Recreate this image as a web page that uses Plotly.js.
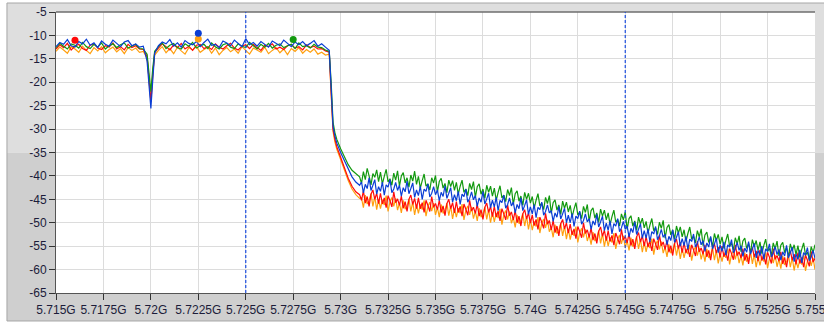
<!DOCTYPE html>
<html>
<head>
<meta charset="utf-8">
<script src="https://cdn.plot.ly/plotly-3.0.1.min.js"></script>
<style>html,body{margin:0;padding:0;background:#fff;}#chart{width:824px;height:323px;}</style>
</head>
<body>
<div id="chart"></div>
<script>
// Frequency axis (GHz)
var freq = [
5.715,5.7152,5.7154,5.7156,5.7158,5.716,5.7162,5.7164,5.7166,5.7168,
5.717,5.7172,5.7174,5.7176,5.7178,5.718,5.7182,5.7184,5.7186,5.7188,
5.719,5.7192,5.7194,5.7196,
5.7198,5.7199,5.72,5.7201,5.7202,
5.7204,5.7206,5.7208,5.721,5.7212,5.7214,5.7216,5.7218,5.722,5.7222,
5.7224,5.7226,5.7228,5.723,5.7232,5.7234,5.7236,5.7238,5.724,5.7242,
5.7244,5.7246,5.7248,5.725,5.7252,5.7254,5.7256,5.7258,5.726,5.7262,
5.7264,5.7266,5.7268,5.727,5.7272,5.7274,5.7276,5.7278,5.728,5.7282,
5.7284,5.7286,5.7288,5.729,5.7292,
5.7294,5.7295,5.7296,5.7297,5.7298,5.73,5.7302,5.7304,5.7306,5.7308,5.731,
5.7311,5.7312,5.7313,5.7314,5.7315,5.7316,5.7317,5.7318,5.7319,5.732,
5.7321,5.7322,5.7323,5.7324,5.7325,5.7326,5.7327,5.7328,5.7329,5.733,
5.7331,5.7332,5.7333,5.7334,5.7335,5.7336,5.7337,5.7338,5.7339,5.734,
5.7341,5.7342,5.7343,5.7344,5.7345,5.7346,5.7347,5.7348,5.7349,5.735,
5.7351,5.7352,5.7353,5.7354,5.7355,5.7356,5.7357,5.7358,5.7359,5.736,
5.7361,5.7362,5.7363,5.7364,5.7365,5.7366,5.7367,5.7368,5.7369,5.737,
5.7371,5.7372,5.7373,5.7374,5.7375,5.7376,5.7377,5.7378,5.7379,5.738,
5.7381,5.7382,5.7383,5.7384,5.7385,5.7386,5.7387,5.7388,5.7389,5.739,
5.7391,5.7392,5.7393,5.7394,5.7395,5.7396,5.7397,5.7398,5.7399,5.74,
5.7401,5.7402,5.7403,5.7404,5.7405,5.7406,5.7407,5.7408,5.7409,5.741,
5.7411,5.7412,5.7413,5.7414,5.7415,5.7416,5.7417,5.7418,5.7419,5.742,
5.7421,5.7422,5.7423,5.7424,5.7425,5.7426,5.7427,5.7428,5.7429,5.743,
5.7431,5.7432,5.7433,5.7434,5.7435,5.7436,5.7437,5.7438,5.7439,5.744,
5.7441,5.7442,5.7443,5.7444,5.7445,5.7446,5.7447,5.7448,5.7449,5.745,
5.7451,5.7452,5.7453,5.7454,5.7455,5.7456,5.7457,5.7458,5.7459,5.746,
5.7461,5.7462,5.7463,5.7464,5.7465,5.7466,5.7467,5.7468,5.7469,5.747,
5.7471,5.7472,5.7473,5.7474,5.7475,5.7476,5.7477,5.7478,5.7479,5.748,
5.7481,5.7482,5.7483,5.7484,5.7485,5.7486,5.7487,5.7488,5.7489,5.749,
5.7491,5.7492,5.7493,5.7494,5.7495,5.7496,5.7497,5.7498,5.7499,5.75,
5.7501,5.7502,5.7503,5.7504,5.7505,5.7506,5.7507,5.7508,5.7509,5.751,
5.7511,5.7512,5.7513,5.7514,5.7515,5.7516,5.7517,5.7518,5.7519,5.752,
5.7521,5.7522,5.7523,5.7524,5.7525,5.7526,5.7527,5.7528,5.7529,5.753,
5.7531,5.7532,5.7533,5.7534,5.7535,5.7536,5.7537,5.7538,5.7539,5.754,
5.7541,5.7542,5.7543,5.7544,5.7545,5.7546,5.7547,5.7548,5.7549,5.755
];

var levelOrange = [
-13.4,-12.5,-13.1,-13.8,-12.4,-12.9,-13.6,-12.3,-13.2,-13.9,
-12.6,-13.3,-12.4,-13.7,-13.0,-12.5,-13.5,-12.8,-13.9,-12.6,
-13.2,-12.7,-13.6,-13.4,
-14.8,-19.0,-23.5,-17.8,-14.2,
-13.2,-12.4,-13.7,-12.8,-13.9,-12.5,-13.3,-14.0,-12.6,-13.1,
-12.4,-13.6,-13.0,-12.5,-13.8,-12.7,-14.1,-13.2,-12.6,-13.5,
-12.9,-13.8,-12.4,-13.3,-14.0,-12.7,-13.1,-13.6,-12.5,-13.9,
-13.2,-12.6,-13.7,-12.9,-14.1,-12.8,-13.4,-12.6,-13.8,-13.0,
-13.6,-12.9,-14.0,-13.6,-14.2,
-14.0,-22.5,-30.5,-32.8,-34.3,-36.5,-39.0,-41.0,-42.8,-44.0,-44.8,
-44.7,-46.8,-44.1,-46.0,-45.3,-43.8,-46.5,-44.4,-47.2,-45.0,
-47.0,-45.1,-46.2,-44.2,-47.6,-45.5,-44.6,-46.5,-44.8,-47.3,
-45.8,-47.9,-45.2,-47.1,-46.4,-44.9,-47.6,-45.5,-48.3,-46.1,
-48.0,-46.1,-47.2,-45.2,-48.6,-46.5,-45.6,-47.5,-45.8,-48.3,
-46.7,-48.8,-46.1,-48.0,-47.3,-45.8,-48.5,-46.4,-49.2,-47.0,
-48.8,-46.9,-48.0,-46.0,-49.4,-47.3,-46.4,-48.3,-46.6,-49.1,
-47.5,-49.6,-46.9,-48.8,-48.1,-46.6,-49.3,-47.2,-50.0,-47.8,
-49.8,-47.9,-49.0,-47.0,-50.4,-48.3,-47.4,-49.3,-47.6,-50.1,
-48.9,-51.0,-48.3,-50.2,-49.5,-48.0,-50.7,-48.6,-51.4,-49.2,
-51.6,-49.7,-50.8,-48.8,-52.2,-50.1,-49.2,-51.1,-49.4,-51.9,
-51.0,-53.1,-50.4,-52.3,-51.6,-50.1,-52.8,-50.7,-53.5,-51.3,
-53.6,-51.7,-52.8,-50.8,-54.2,-52.1,-51.2,-53.1,-51.4,-53.9,
-52.6,-54.7,-52.0,-53.9,-53.2,-51.7,-54.4,-52.3,-55.1,-52.9,
-55.0,-53.1,-54.2,-52.2,-55.6,-53.5,-52.6,-54.5,-52.8,-55.3,
-53.8,-55.9,-53.2,-55.1,-54.4,-52.9,-55.6,-53.5,-56.3,-54.1,
-56.2,-54.3,-55.4,-53.4,-56.8,-54.7,-53.8,-55.7,-54.0,-56.5,
-55.2,-57.3,-54.6,-56.5,-55.8,-54.3,-57.0,-54.9,-57.7,-55.5,
-57.5,-55.6,-56.7,-54.7,-58.1,-56.0,-55.1,-57.0,-55.3,-57.8,
-56.2,-58.3,-55.6,-57.5,-56.8,-55.3,-58.0,-55.9,-58.7,-56.5,
-58.3,-56.4,-57.5,-55.5,-58.9,-56.8,-55.9,-57.8,-56.1,-58.6,
-57.0,-59.1,-56.4,-58.3,-57.6,-56.1,-58.8,-56.7,-59.5,-57.3,
-59.1,-57.2,-58.3,-56.3,-59.7,-57.6,-56.7,-58.6,-56.9,-59.4,
-57.7,-59.8,-57.1,-59.0,-58.3,-56.8,-59.5,-57.4,-60.2,-58.0,
-59.7,-57.8,-58.9,-56.9,-60.3,-58.2,-57.3,-59.2,-57.5,-60.0
];

var levelRed = [
-12.9,-12.0,-12.6,-11.7,-13.1,-12.3,-11.9,-12.8,-13.2,-12.1,
-11.8,-12.7,-13.0,-12.2,-12.5,-11.6,-12.9,-12.4,-13.1,-11.9,
-12.6,-12.2,-12.9,-13.0,
-14.5,-19.5,-24.2,-18.5,-13.6,
-12.7,-11.8,-12.4,-13.1,-12.0,-12.6,-11.7,-12.9,-12.3,-13.2,
-12.1,-11.9,-12.8,-12.4,-13.0,-11.8,-12.5,-12.9,-12.2,-11.7,
-12.7,-13.1,-12.3,-12.0,-12.8,-11.9,-12.6,-13.2,-12.1,-12.4,
-11.8,-12.9,-12.5,-13.0,-12.2,-11.9,-12.7,-12.4,-13.1,-12.0,
-12.6,-12.3,-12.9,-12.8,-13.3,
-13.6,-22.0,-30.0,-32.2,-33.8,-36.0,-38.5,-40.5,-42.2,-43.4,-44.0,
-45.2,-43.2,-45.8,-44.4,-46.5,-43.9,-43.0,-45.0,-43.7,-45.9,
-43.7,-46.0,-44.7,-46.8,-44.2,-45.3,-46.6,-43.4,-45.7,-44.9,
-46.3,-44.3,-46.9,-45.5,-47.6,-45.0,-44.1,-46.1,-44.8,-47.0,
-44.7,-47.0,-45.7,-47.8,-45.2,-46.3,-47.6,-44.4,-46.7,-45.9,
-47.2,-45.2,-47.8,-46.4,-48.5,-45.9,-45.0,-47.0,-45.7,-47.9,
-45.5,-47.8,-46.5,-48.6,-46.0,-47.1,-48.4,-45.2,-47.5,-46.7,
-48.0,-46.0,-48.6,-47.2,-49.3,-46.7,-45.8,-47.8,-46.5,-48.7,
-46.5,-48.8,-47.5,-49.6,-47.0,-48.1,-49.4,-46.2,-48.5,-47.7,
-49.4,-47.4,-50.0,-48.6,-50.7,-48.1,-47.2,-49.2,-47.9,-50.1,
-48.3,-50.6,-49.3,-51.4,-48.8,-49.9,-51.2,-48.0,-50.3,-49.5,
-51.5,-49.5,-52.1,-50.7,-52.8,-50.2,-49.3,-51.3,-50.0,-52.2,
-50.3,-52.6,-51.3,-53.4,-50.8,-51.9,-53.2,-50.0,-52.3,-51.5,
-53.1,-51.1,-53.7,-52.3,-54.4,-51.8,-50.9,-52.9,-51.6,-53.8,
-51.7,-54.0,-52.7,-54.8,-52.2,-53.3,-54.6,-51.4,-53.7,-52.9,
-54.3,-52.3,-54.9,-53.5,-55.6,-53.0,-52.1,-54.1,-52.8,-55.0,
-52.9,-55.2,-53.9,-56.0,-53.4,-54.5,-55.8,-52.6,-54.9,-54.1,
-55.7,-53.7,-56.3,-54.9,-57.0,-54.4,-53.5,-55.5,-54.2,-56.4,
-54.2,-56.5,-55.2,-57.3,-54.7,-55.8,-57.1,-53.9,-56.2,-55.4,
-56.7,-54.7,-57.3,-55.9,-58.0,-55.4,-54.5,-56.5,-55.2,-57.4,
-55.0,-57.3,-56.0,-58.1,-55.5,-56.6,-57.9,-54.7,-57.0,-56.2,
-57.5,-55.5,-58.1,-56.7,-58.8,-56.2,-55.3,-57.3,-56.0,-58.2,
-55.8,-58.1,-56.8,-58.9,-56.3,-57.4,-58.7,-55.5,-57.8,-57.0,
-58.2,-56.2,-58.8,-57.4,-59.5,-56.9,-56.0,-58.0,-56.7,-58.9,
-56.4,-58.7,-57.4,-59.5,-56.9,-58.0,-59.3,-56.1,-58.4,-57.6
];

var levelGreen = [
-12.6,-11.7,-12.3,-12.9,-11.8,-12.1,-12.7,-11.5,-12.4,-12.8,
-11.9,-12.5,-11.6,-12.9,-12.2,-11.8,-12.6,-12.0,-11.6,-12.7,
-12.3,-11.9,-12.8,-12.9,
-14.0,-18.5,-22.0,-17.0,-13.4,
-12.4,-11.6,-12.8,-12.1,-11.7,-12.6,-12.9,-11.8,-12.3,-11.5,
-12.7,-12.2,-11.9,-12.8,-11.6,-12.4,-12.9,-12.0,-11.7,-12.5,
-12.8,-11.8,-12.3,-12.6,-11.5,-12.2,-12.9,-11.9,-12.5,-11.7,
-12.7,-12.1,-11.8,-12.6,-12.3,-11.9,-12.8,-11.6,-12.4,-12.2,
-12.7,-11.9,-12.5,-12.6,-13.1,
-13.4,-20.0,-28.5,-30.8,-32.2,-34.2,-36.0,-37.6,-38.8,-39.6,-40.2,
-41.6,-39.1,-40.8,-38.4,-40.0,-41.9,-39.5,-40.3,-38.7,-41.2,
-39.2,-41.7,-40.1,-38.6,-41.3,-40.6,-42.0,-39.4,-40.9,-38.9,
-42.2,-40.0,-39.3,-41.5,-40.4,-42.4,-39.8,-41.1,-39.0,-41.8,
-40.1,-42.6,-41.0,-39.6,-42.2,-41.7,-43.0,-40.4,-41.5,-39.9,
-43.4,-41.2,-40.5,-42.6,-41.6,-43.6,-40.9,-42.3,-41.0,-43.1,
-41.4,-43.9,-42.2,-40.9,-43.5,-42.8,-44.2,-41.6,-42.9,-41.2,
-44.6,-42.3,-41.7,-43.9,-42.8,-44.8,-42.0,-43.5,-42.2,-44.3,
-42.6,-45.2,-43.5,-42.1,-44.7,-44.1,-45.5,-42.9,-44.2,-42.5,
-46.1,-43.8,-43.2,-45.4,-44.3,-46.3,-43.5,-45.0,-43.7,-45.8,
-44.4,-46.9,-45.2,-43.8,-46.4,-45.8,-47.2,-44.6,-45.9,-44.2,
-48.0,-45.7,-45.1,-47.3,-46.2,-48.2,-45.4,-46.9,-45.6,-47.7,
-46.3,-48.8,-47.1,-45.7,-48.3,-47.7,-49.1,-46.5,-47.8,-46.1,
-49.7,-47.4,-46.8,-49.0,-47.9,-49.9,-47.1,-48.6,-47.3,-49.4,
-47.9,-50.4,-48.7,-47.3,-49.9,-49.3,-50.7,-48.1,-49.4,-47.7,
-51.4,-49.1,-48.5,-50.7,-49.6,-51.6,-48.8,-50.3,-49.0,-51.1,
-49.7,-52.2,-50.5,-49.1,-51.7,-51.1,-52.5,-49.9,-51.2,-49.5,
-53.3,-51.0,-50.4,-52.6,-51.5,-53.5,-50.7,-52.2,-50.9,-53.0,
-51.5,-54.0,-52.3,-50.9,-53.5,-52.9,-54.3,-51.7,-53.0,-51.3,
-54.9,-52.6,-52.0,-54.2,-53.1,-55.1,-52.3,-53.8,-52.5,-54.6,
-53.0,-55.5,-53.8,-52.4,-55.0,-54.4,-55.8,-53.2,-54.5,-52.8,
-56.2,-53.9,-53.3,-55.5,-54.4,-56.4,-53.6,-55.1,-53.8,-55.9,
-54.1,-56.6,-54.9,-53.5,-56.1,-55.5,-56.9,-54.3,-55.6,-53.9,
-57.1,-54.8,-54.2,-56.4,-55.3,-57.3,-54.5,-56.0,-54.7,-56.8,
-54.9,-57.4,-55.7,-54.3,-56.9,-56.3,-57.7,-55.1,-56.4,-54.7
];

var levelBlue = [
-12.4,-11.5,-11.9,-10.9,-12.2,-12.5,-11.3,-11.8,-10.8,-12.1,
-11.6,-12.6,-11.2,-11.9,-12.3,-11.0,-11.7,-12.4,-11.4,-11.1,
-12.2,-11.8,-12.5,-12.3,
-15.5,-20.5,-25.6,-19.5,-13.8,
-12.2,-11.4,-11.8,-10.9,-12.3,-11.6,-12.5,-11.1,-11.7,-12.0,
-11.3,-12.4,-11.5,-10.8,-12.1,-11.9,-12.6,-11.2,-11.6,-12.2,
-11.0,-11.8,-12.4,-10.7,-12.0,-11.5,-12.3,-11.3,-11.9,-12.5,
-11.2,-11.7,-12.2,-11.0,-11.6,-12.4,-11.4,-12.0,-11.3,-12.2,
-11.7,-11.1,-12.3,-11.8,-12.5,
-13.2,-21.0,-29.5,-31.5,-33.0,-35.0,-36.8,-38.6,-40.2,-41.3,-42.0,
-41.3,-43.6,-41.8,-42.7,-40.4,-43.1,-42.0,-40.8,-43.9,-42.3,
-43.3,-41.3,-44.1,-41.9,-42.4,-40.8,-43.6,-42.8,-41.4,-43.1,
-42.0,-44.3,-42.5,-43.4,-41.1,-43.8,-42.7,-41.5,-44.6,-43.0,
-44.2,-42.2,-45.0,-42.8,-43.3,-41.7,-44.5,-43.7,-42.3,-44.0,
-43.0,-45.3,-43.5,-44.4,-42.1,-44.8,-43.7,-42.5,-45.6,-44.0,
-45.3,-43.3,-46.1,-43.9,-44.4,-42.8,-45.6,-44.8,-43.4,-45.1,
-44.2,-46.5,-44.7,-45.6,-43.3,-46.0,-44.9,-43.7,-46.8,-45.2,
-46.6,-44.6,-47.4,-45.2,-45.7,-44.1,-46.9,-46.1,-44.7,-46.4,
-45.6,-47.9,-46.1,-47.0,-44.7,-47.4,-46.3,-45.1,-48.2,-46.6,
-48.1,-46.1,-48.9,-46.7,-47.2,-45.6,-48.4,-47.6,-46.2,-47.9,
-47.4,-49.7,-47.9,-48.8,-46.5,-49.2,-48.1,-46.9,-50.0,-48.4,
-50.0,-48.0,-50.8,-48.6,-49.1,-47.5,-50.3,-49.5,-48.1,-49.8,
-49.1,-51.4,-49.6,-50.5,-48.2,-50.9,-49.8,-48.6,-51.7,-50.1,
-51.6,-49.6,-52.4,-50.2,-50.7,-49.1,-51.9,-51.1,-49.7,-51.4,
-50.7,-53.0,-51.2,-52.1,-49.8,-52.5,-51.4,-50.2,-53.3,-51.7,
-53.3,-51.3,-54.1,-51.9,-52.4,-50.8,-53.6,-52.8,-51.4,-53.1,
-52.4,-54.7,-52.9,-53.8,-51.5,-54.2,-53.1,-51.9,-55.0,-53.4,
-54.9,-52.9,-55.7,-53.5,-54.0,-52.4,-55.2,-54.4,-53.0,-54.7,
-53.8,-56.1,-54.3,-55.2,-52.9,-55.6,-54.5,-53.3,-56.4,-54.8,
-56.1,-54.1,-56.9,-54.7,-55.2,-53.6,-56.4,-55.6,-54.2,-55.9,
-54.9,-57.2,-55.4,-56.3,-54.0,-56.7,-55.6,-54.4,-57.5,-55.9,
-57.0,-55.0,-57.8,-55.6,-56.1,-54.5,-57.3,-56.5,-55.1,-56.8,
-55.7,-58.0,-56.2,-57.1,-54.8,-57.5,-56.4,-55.2,-58.3,-56.7,
-57.8,-55.8,-58.6,-56.4,-56.9,-55.3,-58.1,-57.3,-55.9,-57.6
];

// Marker dots (orange, red, green, blue)
var markerFreq  = [5.7225, 5.716, 5.7275, 5.7225];
var markerLevel = [-10.77, -11.05, -10.85, -9.55];

// Cursor lines
var cursorFreq = [5.725, 5.745];

// Axis ticks
var freqTicks = [5.715,5.7175,5.72,5.7225,5.725,5.7275,5.73,5.7325,5.735,5.7375,5.74,5.7425,5.745,5.7475,5.75,5.7525,5.755];
var freqTickLabels = ['5.715G','5.7175G','5.72G','5.7225G','5.725G','5.7275G','5.73G','5.7325G','5.735G','5.7375G','5.74G','5.7425G','5.745G','5.7475G','5.75G','5.7525G','5.755G'];
var levelTicks = [-65,-60,-55,-50,-45,-40,-35,-30,-25,-20,-15,-10,-5];
var levelTickLabels = ['-65','-60','-55','-50','-45','-40','-35','-30','-25','-20','-15','-10','-5'];

// ---- styling ----
var seriesLevels = [levelOrange, levelRed, levelGreen, levelBlue];
var seriesColors = ['#ffa010', '#ff0a0a', '#12990f', '#0a3ed4'];

var traces = [];
for (var i = 0; i < seriesLevels.length; i++) {
  traces.push({
    x: freq, y: seriesLevels[i], type: 'scatter', mode: 'lines',
    line: {color: seriesColors[i], width: 1.2}, hoverinfo: 'skip', showlegend: false
  });
}
for (var j = 0; j < markerFreq.length; j++) {
  traces.push({
    x: [markerFreq[j]], y: [markerLevel[j]], type: 'scatter', mode: 'markers',
    marker: {color: seriesColors[j], size: 7}, hoverinfo: 'skip', showlegend: false
  });
}

var tickFont = {family: 'Liberation Sans, Arial, sans-serif', size: 12, color: '#1c1c3a'};

var shapes = [
  {type:'rect', xref:'paper', yref:'paper', x0:-0.0646, x1:1.03, y0:0.5, y1:1.032, fillcolor:'#dedede', line:{width:0}, layer:'below'},
  {type:'rect', xref:'paper', yref:'paper', x0:-0.0646, x1:1.03, y0:-0.0996, y1:0.5, fillcolor:'#cfcfcf', line:{width:0}, layer:'below'},
  {type:'rect', xref:'paper', yref:'paper', x0:-0.0646, x1:1.03, y0:-0.0996, y1:1.032, line:{color:'#a6a6a6', width:1}, layer:'below'},
  {type:'rect', xref:'paper', yref:'paper', x0:0, x1:1, y0:0, y1:1, fillcolor:'#ffffff', line:{width:0}, layer:'below'},
  {type:'line', xref:'paper', yref:'paper', x0:0, x1:1, y0:1, y1:1, line:{color:'#6e6e6e', width:1.5}, layer:'above'}
];
cursorFreq.forEach(function (f) {
  shapes.push({type:'line', xref:'x', yref:'paper', x0:f, x1:f, y0:0, y1:1,
    line:{color:'#1f4fe0', width:1.2, dash:'3px,2px'}, layer:'above'});
});

var layout = {
  width: 824, height: 323,
  margin: {l: 56, r: 9, t: 12, b: 30, pad: 0},
  paper_bgcolor: '#ffffff', plot_bgcolor: '#ffffff',
  showlegend: false,
  xaxis: {
    range: [5.715, 5.755], tickmode: 'array', tickvals: freqTicks, ticktext: freqTickLabels,
    showgrid: true, gridcolor: '#dcdcdc', gridwidth: 1, zeroline: false,
    ticks: 'outside', ticklen: 6, tickcolor: '#333333', tickwidth: 1,
    showline: true, linecolor: '#555555', linewidth: 1,
    tickfont: tickFont, automargin: false, fixedrange: true,
    ticklabeloverflow: 'allow'
  },
  yaxis: {
    range: [-65, -5], tickmode: 'array', tickvals: levelTicks, ticktext: levelTickLabels,
    showgrid: true, gridcolor: '#dcdcdc', gridwidth: 1, zeroline: false,
    ticks: 'outside', ticklen: 6, tickcolor: '#333333', tickwidth: 1,
    showline: true, linecolor: '#555555', linewidth: 1,
    tickfont: tickFont, automargin: false, fixedrange: true
  },
  shapes: shapes
};

Plotly.newPlot('chart', traces, layout, {displayModeBar: false, staticPlot: true});
</script>
</body>
</html>
